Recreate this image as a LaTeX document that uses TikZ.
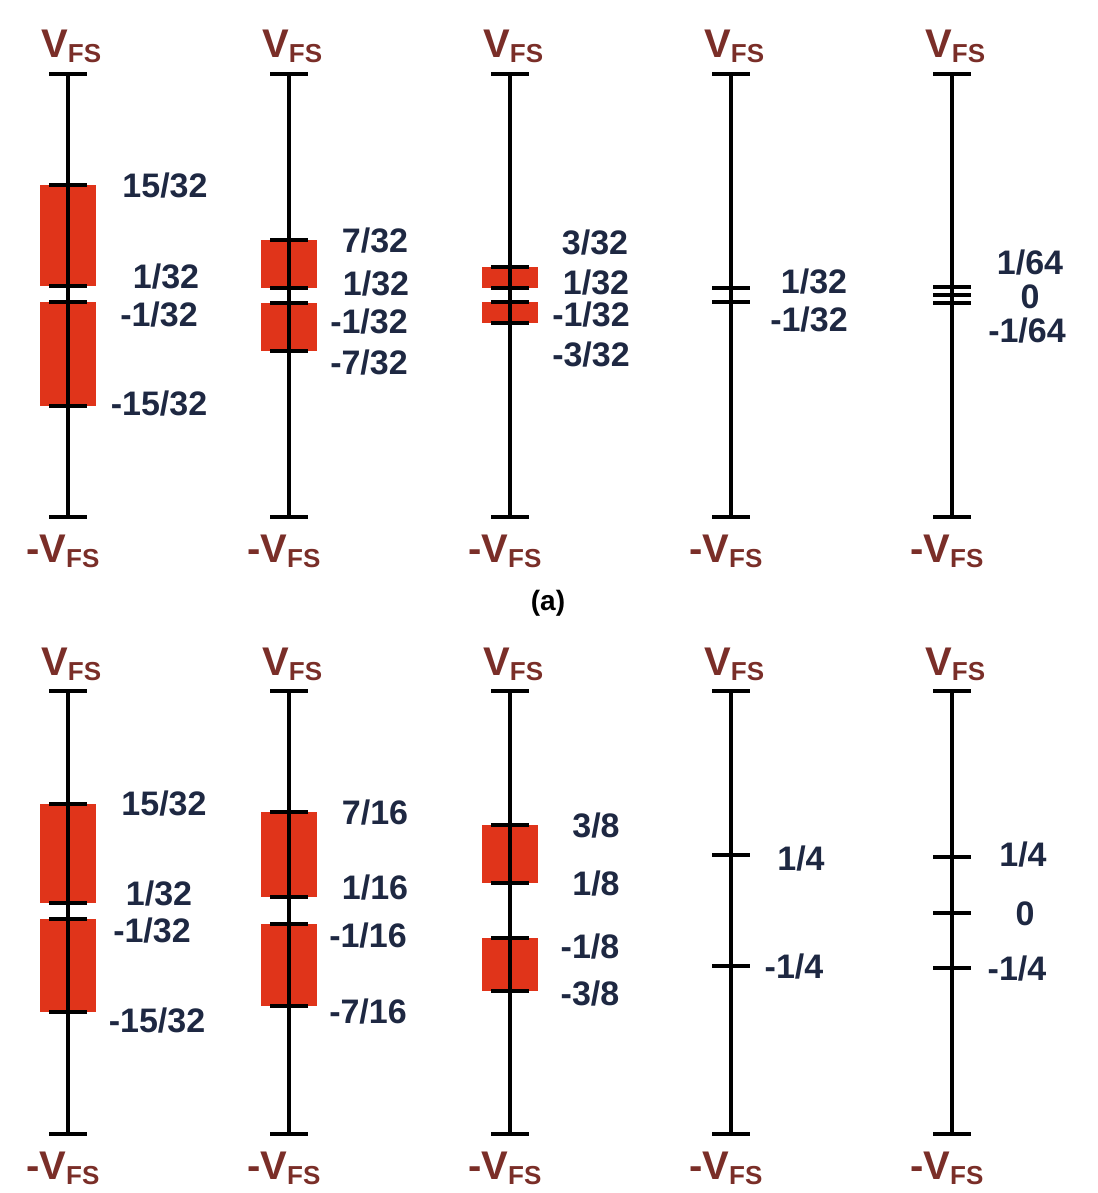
\documentclass[tikz,border=0pt]{standalone}
\usepackage{fontspec}
\setmainfont{Liberation Sans}
\definecolor{vred}{RGB}{224,52,26}
\definecolor{vbrown}{RGB}{122,46,40}
\definecolor{vnavy}{RGB}{30,40,66}
\newcommand\vfsV{{\fontsize{40}{40}\selectfont V}\raisebox{-5pt}{\fontsize{26}{26}\selectfont FS}}
\newcommand\nvfsV{{\fontsize{40}{40}\selectfont -V}\raisebox{-5pt}{\fontsize{26}{26}\selectfont FS}}
\newcommand\bnd[3]{\fill[band] (#1-28,#2) rectangle (#1+28,#3);}
\newcommand\tk[2]{\draw[tickline] (#1-19,#2) -- (#1+19,#2);}
\newcommand\lab[4]{\node[val] (#1) at (#2,#3+12) {#4};}
\begin{document}
\begin{tikzpicture}[x=1pt,y=-1pt,
  axisline/.style={line width=4pt},
  tickline/.style={line width=4.5pt},
  band/.style={fill=vred},
  val/.style={font=\fontsize{34}{34}\selectfont\bfseries, text=vnavy, inner sep=0pt, anchor=base},
  vlab/.style={font=\bfseries, text=vbrown, inner sep=0pt, anchor=base west}]
\useasboundingbox (0,0) rectangle (1097,1193);
% bands
\bnd{68}{185}{286}\bnd{68}{302}{406}
\bnd{289}{240}{288}\bnd{289}{303}{351}
\bnd{510}{267}{288}\bnd{510}{302}{323}
\bnd{68}{804}{903}\bnd{68}{919}{1012}
\bnd{289}{812}{897}\bnd{289}{924}{1006}
\bnd{510}{825}{883}\bnd{510}{938}{991}
% axes
\foreach \x [count=\i] in {68,289,510,731,952} {
  \coordinate (ta\i) at (\x,74);  \coordinate (ba\i) at (\x,517);
  \coordinate (tb\i) at (\x,691); \coordinate (bb\i) at (\x,1134);
  \draw[axisline] (ta\i) -- (ba\i);
  \draw[axisline] (tb\i) -- (bb\i);
  \tk{\x}{74}\tk{\x}{517}\tk{\x}{691}\tk{\x}{1134}
  \node[vlab] (va\i) at (\x-27,58) {\vfsV};
  \node[vlab] (na\i) at (\x-42,562) {\nvfsV};
  \node[vlab] (vb\i) at (\x-27,675) {\vfsV};
  \node[vlab] (nb\i) at (\x-42,1179) {\nvfsV};
}
% ticks top
\tk{68}{185}\tk{68}{286}\tk{68}{302}\tk{68}{406}
\tk{289}{240}\tk{289}{288}\tk{289}{303}\tk{289}{351}
\tk{510}{267}\tk{510}{288}\tk{510}{302}\tk{510}{323}
\tk{731}{288}\tk{731}{302}
\tk{952}{287}\tk{952}{295}\tk{952}{303}
% ticks bottom
\tk{68}{804}\tk{68}{903}\tk{68}{919}\tk{68}{1012}
\tk{289}{812}\tk{289}{897}\tk{289}{924}\tk{289}{1006}
\tk{510}{825}\tk{510}{883}\tk{510}{938}\tk{510}{991}
\tk{731}{855}\tk{731}{966}
\tk{952}{857}\tk{952}{913}\tk{952}{968}
% labels top
\lab{a11}{165}{185}{15/32}\lab{a12}{166}{276}{1/32}\lab{a13}{159}{314}{-1/32}\lab{a14}{159}{403}{-15/32}
\lab{a21}{375}{240}{7/32}\lab{a22}{376}{283}{1/32}\lab{a23}{369}{321}{-1/32}\lab{a24}{369}{362}{-7/32}
\lab{a31}{595}{242}{3/32}\lab{a32}{596}{282}{1/32}\lab{a33}{591}{314}{-1/32}\lab{a34}{591}{354}{-3/32}
\lab{a41}{814}{281}{1/32}\lab{a42}{809}{319}{-1/32}
\lab{a51}{1030}{262}{1/64}\lab{a52}{1030}{296}{0}\lab{a53}{1027}{330}{-1/64}
% labels bottom
\lab{b11}{164}{803}{15/32}\lab{b12}{159}{893}{1/32}\lab{b13}{152}{930}{-1/32}\lab{b14}{157}{1020}{-15/32}
\lab{b21}{375}{812}{7/16}\lab{b22}{375}{887}{1/16}\lab{b23}{368}{935}{-1/16}\lab{b24}{368}{1011}{-7/16}
\lab{b31}{596}{825}{3/8}\lab{b32}{596}{883}{1/8}\lab{b33}{590}{946}{-1/8}\lab{b34}{590}{993}{-3/8}
\lab{b41}{801}{858}{1/4}\lab{b42}{794}{966}{-1/4}
\lab{b51}{1023}{854}{1/4}\lab{b52}{1025}{913}{0}\lab{b53}{1017}{968}{-1/4}
% caption
\node[font=\fontsize{28}{28}\selectfont\bfseries, inner sep=0pt, anchor=base] (cap) at (548,610) {(a)};
\end{tikzpicture}
\end{document}
